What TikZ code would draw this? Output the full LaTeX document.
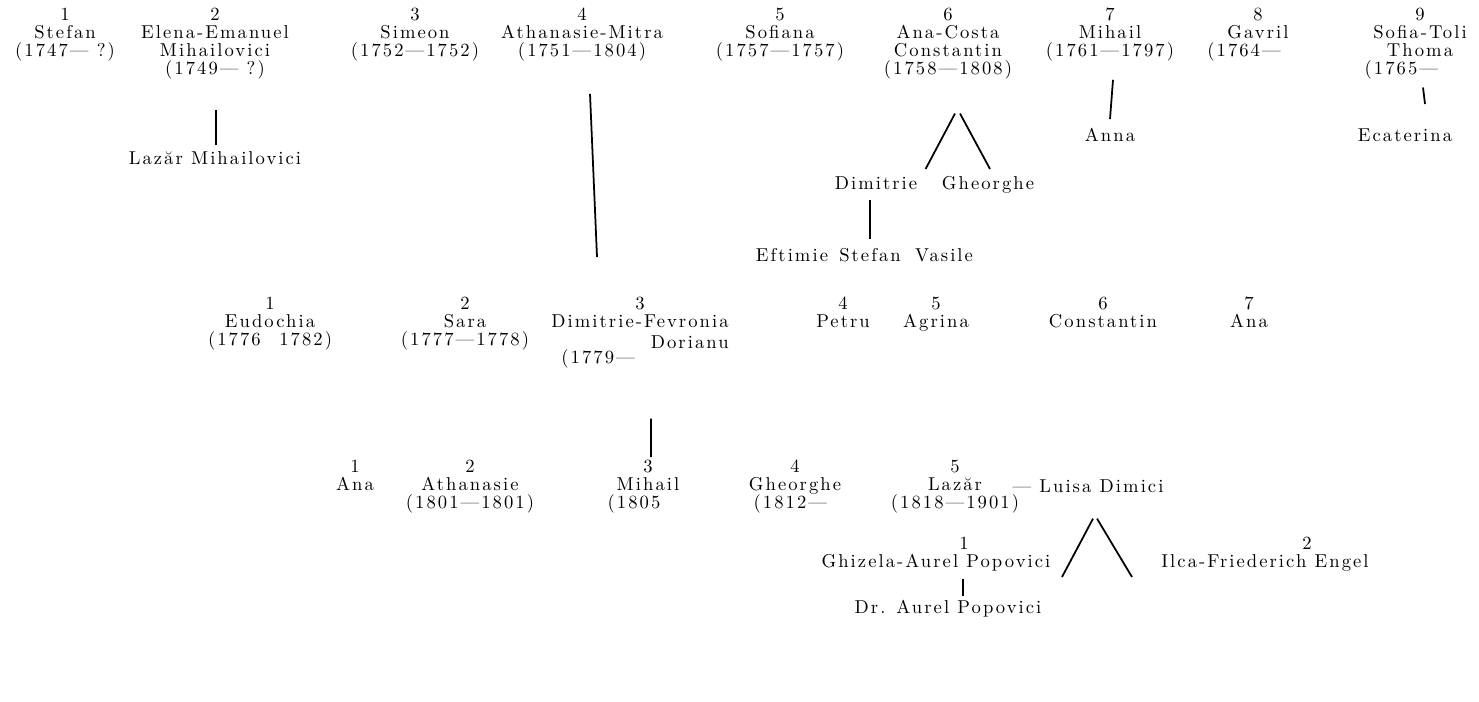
\documentclass[tikz,border=0pt]{standalone}
\usepackage{fontspec}
\setmainfont{Latin Modern Roman}[LetterSpace=11]
\usetikzlibrary{calc}
\tikzset{
  gen/.style={align=center, inner sep=0pt, anchor=north, font=\fontsize{10.6}{10.2}\selectfont},
  kin/.style={line width=1pt},
}
\begin{document}
\begin{tikzpicture}[x=0.02cm,y=-0.02cm]
\useasboundingbox (0,0) rectangle (1479,701);
% first generation
\node[gen] (s1) at (65,8) {1\\Stefan\\(1747— ?)};
\node[gen] (s2) at (215,8) {2\\Elena-Emanuel\\Mihailovici\\(1749— ?)};
\node[gen] (s3) at (415,8) {3\\Simeon\\(1752—1752)};
\node[gen] (s4) at (582,8) {4\\Athanasie-Mitra\\(1751—1804)};
\node[gen] (s5) at (780,8) {5\\Sofiana\\(1757—1757)};
\node[gen] (s6) at (948,8) {6\\Ana-Costa\\Constantin\\(1758—1808)};
\node[gen] (s7) at (1110,8) {7\\Mihail\\(1761—1797)};
\node[gen] (s8) at (1258,8) {8\\Gavril\\(1764—\hspace*{1.5em}};
\node[gen] (s9) at (1420,8) {9\\Sofia-Toli\\Thoma\\(1765—\hspace*{2em}};

\node[gen] (lm) at (215,151) {Lazăr Mihailovici};
\node[gen] (anna) at (1110,128) {Anna};
\node[gen] (ecat) at (1405,128) {Ecaterina};
\node[gen] (dim) at (876,176) {Dimitrie};
\node[gen] (ghe) at (988,176) {Gheorghe};
\foreach \n/\x/\txt in {eft/792/Eftimie, ste/870/Stefan, vas/944/Vasile}
    \node[gen] (\n) at (\x,248) {\txt};

% second generation
\node[gen] (r1) at (270,297) {1\\Eudochia\\(1776\quad1782)};
\node[gen] (r2) at (465,297) {2\\Sara\\(1777—1778)};
\node[gen] (r3) at (640,297) {3\\Dimitrie-Fevronia};
\node[gen,anchor=north east] (r3b) at ($(r3.south east)+(0,7)$) {Dorianu};
\node[gen,anchor=north west] (r3c) at ($(r3.south west)+(10,21)$) {(1779—};
\foreach \n/\x/\txt in {r4/843/{4\\Petru}, r5/936/{5\\Agrina}, r6/1103/{6\\Constantin}, r7/1249/{7\\Ana}}
    \node[gen] (\n) at (\x,297) {\txt};

% third generation
\node[gen] (m1) at (355,460) {1\\Ana};
\node[gen] (m2) at (470,460) {2\\Athanasie\\(1801—1801)};
\node[gen] (m3) at (648,460) {3\\Mihail\\(1805\hspace*{1.5em}};
\node[gen] (m4) at (795,460) {4\\Gheorghe\\(1812—\hspace*{0.5em}};
\node[gen] (m5) at (955,460) {5\\Lazăr\\(1818—1901)};
\node[gen] (ld) at (1088,479) {— Luisa Dimici};

% fourth generation
\node[gen] (g1) at (936,537) {\hspace*{3em}1\\Ghizela-Aurel Popovici};
\node[gen] (g2) at (1265,537) {\hspace*{4.5em}2\\Ilca-Friederich Engel};
\node[gen] (dr) at (948,600) {Dr. Aurel Popovici};

% descent lines
\draw[kin] ($(s2.south)+(1,30)$) -- ($(lm.north)+(1,-6)$);
\draw[kin] ($(s4.south)+(8,32)$) -- ($(r3.north)+(-43,-40)$);
\draw[kin] ($(s6.south)+(7,34)$) -- ($(dim.north east)+(8,-7)$);
\draw[kin] ($(s6.south)+(12,34)$) -- ($(ghe.north)+(2,-7)$);
\draw[kin] ($(dim.south)+(-6,10)$) -- ($(ste.north)+(0,-9)$);
\draw[kin] ($(s7.south)+(3,18)$) -- ($(anna.north)+(0,-9)$);
\draw[kin] ($(s9.south)+(3,8)$) -- ($(ecat.north)+(20,-24)$);
\draw[kin] ($(r3c.south east)+(16,50)$) -- ($(m3.north)+(3,-3)$);
\draw[kin] ($(ld.south)+(5,26)$) -- ($(g1.north)+(126,40)$);
\draw[kin] ($(ld.south)+(9,26)$) -- ($(g2.north)+(-133,40)$);
\draw[kin] ($(g1.south)+(27,7)$) -- ($(dr.north)+(15,-4)$);
\end{tikzpicture}
\end{document}
